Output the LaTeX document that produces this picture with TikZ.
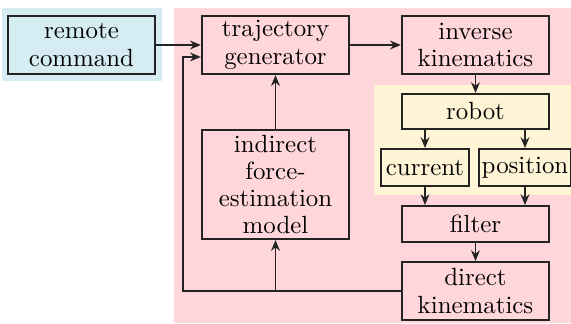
\documentclass[tikz,border=0pt]{standalone}
\usepackage{tikz}
\usetikzlibrary{positioning, arrows.meta, calc}
\definecolor{remotecol}{RGB}{214,236,243}
\definecolor{controlcol}{RGB}{255,214,217}
\definecolor{robotcol}{RGB}{255,245,214}
\definecolor{linecol}{RGB}{35,35,35}
\tikzset{
  block/.style={rectangle, draw=linecol, line width=0.75pt,
                minimum width=60.5pt, minimum height=23.8pt,
                inner sep=2pt, align=center,
                font=\fontsize{10.2}{11.2}\selectfont},
  remote block/.style={block, fill=remotecol},
  control block/.style={block, fill=controlcol},
  robot block/.style={block, fill=robotcol},
  sensor block/.style={robot block, minimum width=36pt, minimum height=15.2pt, inner sep=1pt},
  arr/.style={-{Stealth[length=4.4pt, width=3.6pt]}, line width=0.75pt, linecol},
}
\begin{document}
\begin{tikzpicture}[x=0.41pt, y=-0.41pt]
    \useasboundingbox (0,0) rectangle (571,324);
    % zones
    \fill[remotecol] (2,8) rectangle (162,81);
    \fill[controlcol] (174,8) rectangle (571,323);
    \fill[robotcol] (374,85) rectangle (571,195);

    \node[remote block] (remote) at (81.5,45) {remote\\command};
    \node[control block] (traj) at (275.5,45) {trajectory\\generator};
    \node[control block] (invkin) at (475.5,45) {inverse\\kinematics};
    \node[robot block, minimum height=14.4pt] (robot) at (475.5,111.5) {robot};
    \node[sensor block] (current) at (425,167.5) {current};
    \node[sensor block] (position) at (525,167.5) {position};
    \node[control block, minimum height=14.8pt] (filter) at (475.5,224) {filter};
    \node[control block] (dirkin) at (475.5,291) {direct\\kinematics};
    \node[control block, minimum height=44.7pt] (indirect) at (275.5,184.5) {indirect\\force-\\estimation\\model};

    % forward path
    \draw[arr] (remote) -- (traj);
    \draw[arr] (traj) -- (invkin);
    \draw[arr] (invkin) -- (robot);
    \draw[arr] (current |- robot.south) -- (current);
    \draw[arr] (position |- robot.south) -- (position);
    \draw[arr] (current) -- (current |- filter.north);
    \draw[arr] (position) -- (position |- filter.north);
    \draw[arr] (filter) -- (dirkin);

    % feedback
    \coordinate (fbcorner) at (183,291);
    \draw[arr] (dirkin.west) -- (fbcorner) |- ([yshift=-4.9pt]traj.west);
    \draw[arr] (indirect |- dirkin.west) -- (indirect);
    \draw[arr] (indirect) -- (traj);
\end{tikzpicture}
\end{document}
